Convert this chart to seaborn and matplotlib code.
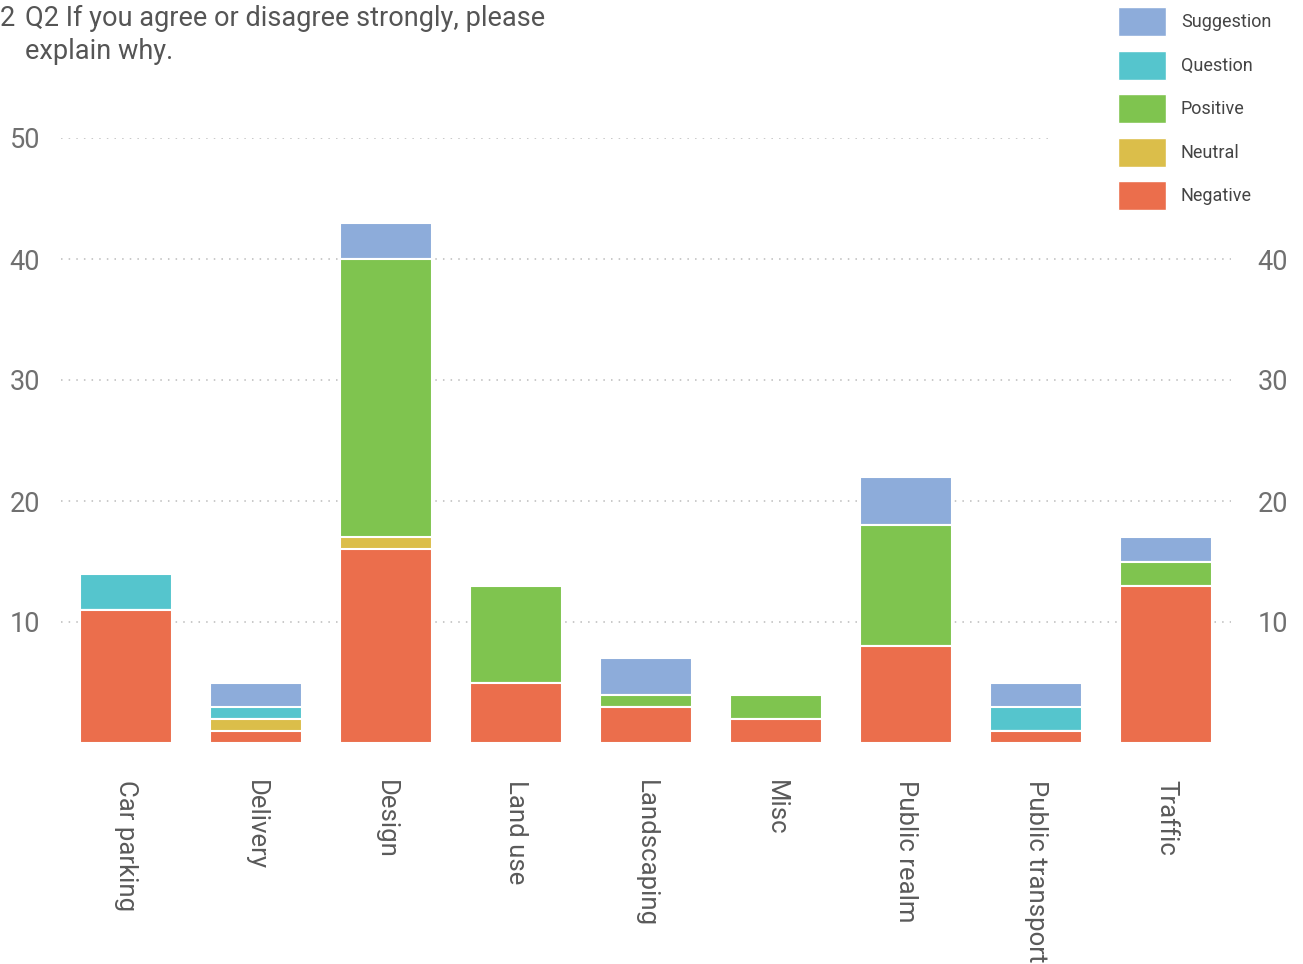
import matplotlib
matplotlib.use("Agg")
import matplotlib.pyplot as plt
from matplotlib.patches import Patch
import numpy as np
import pandas as pd
import seaborn as sns

# Survey themes and coded response counts
categories = ["Car parking", "Delivery", "Design", "Land use", "Landscaping",
              "Misc", "Public realm", "Public transport", "Traffic"]
negative   = [11, 1, 16, 5, 3, 2, 8, 1, 13]
neutral    = [0, 1, 1, 0, 0, 0, 0, 0, 0]
positive   = [0, 0, 23, 8, 1, 2, 10, 0, 2]
question   = [3, 1, 0, 0, 0, 0, 0, 2, 0]
suggestion = [0, 2, 3, 0, 3, 0, 4, 2, 2]

series_names = ["Negative", "Neutral", "Positive", "Question", "Suggestion"]
series_values = [negative, neutral, positive, question, suggestion]
colors = {"Suggestion": "#8DACDA", "Question": "#55C5CD", "Positive": "#7FC44F",
          "Neutral": "#DBBE4A", "Negative": "#EB6E4C"}

y_ticks = [10, 20, 30, 40, 50]
right_ticks = [10, 20, 30, 40]

sns.set_theme(style="white")
plt.rcParams["font.family"] = ["Roboto", "DejaVu Sans"]

fig = plt.figure(figsize=(13.03, 9.64), dpi=100)
ax = fig.add_axes([61 / 1303, 221 / 964, 1170 / 1303, 605 / 964])

# Stacked bars: draw cumulative totals from the top layer down
cum = np.cumsum(np.array(series_values), axis=0)
for i in range(len(series_names) - 1, -1, -1):
    df = pd.DataFrame({"category": categories, "value": cum[i]})
    sns.barplot(data=df, x="category", y="value", order=categories,
                color=colors[series_names[i]], saturation=1, width=0.715,
                edgecolor="white", linewidth=1.5, errorbar=None, ax=ax, zorder=3)

ax.set_xlim(-0.5, len(categories) - 0.5)
ax.set_ylim(0, 50)
ax.set_xlabel("")
ax.set_ylabel("")

# Dotted horizontal guides
grid_kw = dict(color="#bbbbbb", linestyle=(0, (1, 4)), linewidth=1.1, zorder=1)
for t in y_ticks:
    if t == 50:
        ax.axhline(t, xmin=0, xmax=(1050 - 61) / 1170, **grid_kw)
    else:
        ax.axhline(t, **grid_kw)

for s in ax.spines.values():
    s.set_visible(False)

ax.set_yticks(y_ticks)
ax.set_yticklabels([str(t) for t in y_ticks])
ax.tick_params(axis="y", length=0, pad=15, labelsize=19.5, labelcolor="#707070")
ax.tick_params(axis="x", length=0, pad=27, labelsize=18.5, labelcolor="#5a5a5a")
for lbl in ax.get_xticklabels():
    lbl.set_rotation(-90)
    lbl.set_ha("center")
    lbl.set_va("top")

ax2 = ax.twinx()
ax2.set_ylim(ax.get_ylim())
ax2.set_yticks(right_ticks)
ax2.set_yticklabels([str(t) for t in right_ticks])
ax2.tick_params(axis="y", length=0, pad=19, labelsize=19.5, labelcolor="#707070")
for s in ax2.spines.values():
    s.set_visible(False)
ax2.grid(False)

# Title
fig.text(0 / 1303, 1 - 5 / 964, "2", ha="left", va="top", fontsize=19.5, color="#555555")
fig.text(25 / 1303, 1 - 5 / 964, "Q2 If you agree or disagree strongly, please\nexplain why.",
         ha="left", va="top", fontsize=19.5, color="#555555", linespacing=1.3)

# Legend
handles = [Patch(facecolor=colors[n], edgecolor="white", linewidth=1, label=n)
           for n in reversed(series_names)]
fig.legend(handles=handles, loc="upper left",
           bbox_to_anchor=(1118 / 1303, 1 - 7 / 964), frameon=False,
           borderpad=0, borderaxespad=0, fontsize=13, handlelength=2.65,
           handleheight=2.1, handletextpad=0.83, labelspacing=0.8,
           labelcolor="#444444")

fig.savefig("out.png", dpi=100, facecolor="white")
